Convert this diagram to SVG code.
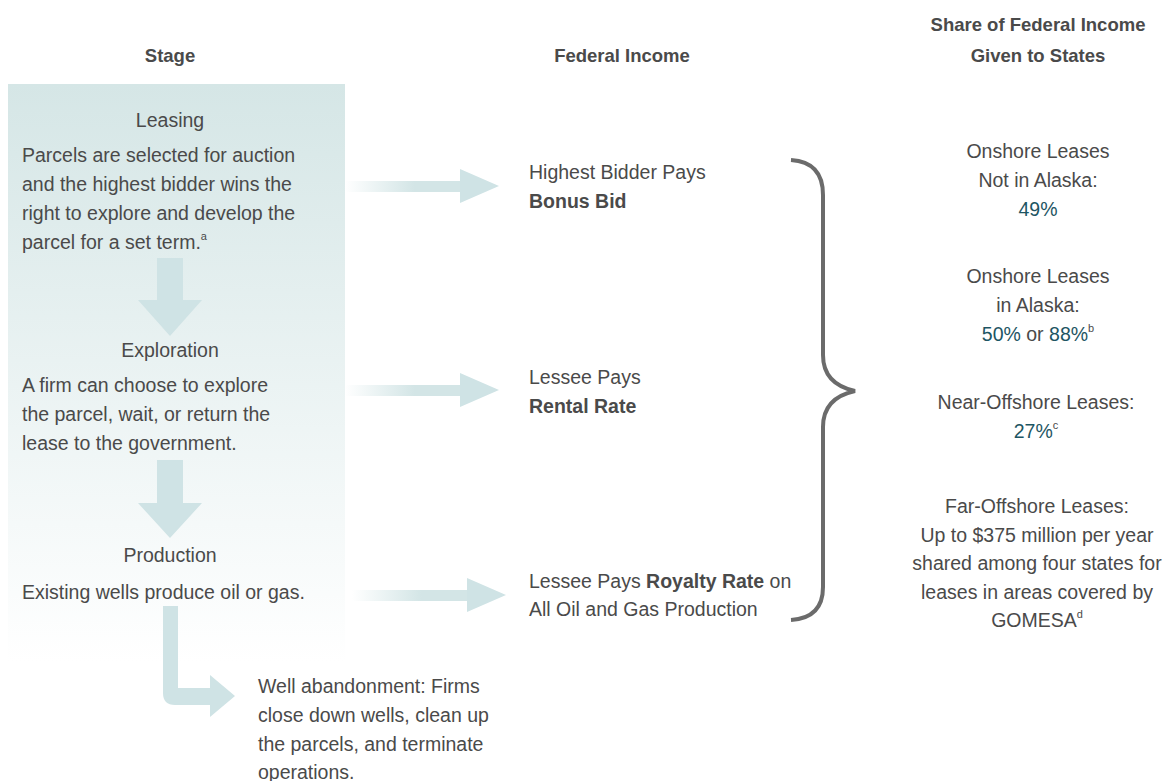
<svg xmlns="http://www.w3.org/2000/svg" width="1165" height="781" viewBox="0 0 1165 781">
<defs>
<linearGradient id="panelGrad" x1="0" y1="0" x2="0" y2="1">
<stop offset="0" stop-color="#d5e6e6"/>
<stop offset="1" stop-color="#ffffff"/>
</linearGradient>
<linearGradient id="shaftGrad" x1="0" y1="0" x2="1" y2="0">
<stop offset="0" stop-color="#d3e5e6" stop-opacity="0"/>
<stop offset="0.6" stop-color="#d3e5e6" stop-opacity="1"/>
</linearGradient>
<style>
text{font-family:"Liberation Sans",Arial,sans-serif;fill:#4a4a4a;}
.h{font-size:18.5px;font-weight:bold;text-anchor:middle;}
.t{font-size:19.5px;}
.c{text-anchor:middle;}
.b{font-weight:bold;}
.p{fill:#1d5563;}
.sup{font-size:11px;}
.arr{fill:#cfe3e5;}
.brace{fill:none;stroke:#6b6b6b;stroke-width:4;stroke-linecap:butt;}
</style>
</defs>
<rect width="1165" height="781" fill="#ffffff"/>

<g id="headers">
<text class="h" x="170" y="62">Stage</text>
<text class="h" x="622" y="62">Federal Income</text>
<text class="h" x="1038" y="31">Share of Federal Income</text>
<text class="h" x="1038" y="62">Given to States</text>
</g>

<g id="stage-panel">
<rect x="8" y="84" width="337" height="578" fill="url(#panelGrad)"/>
</g>

<g id="leasing">
<text class="t c" x="170" y="127">Leasing</text>
<text class="t" x="22" y="162">Parcels are selected for auction</text>
<text class="t" x="22" y="191">and the highest bidder wins the</text>
<text class="t" x="22" y="220">right to explore and develop the</text>
<text class="t" x="22" y="249">parcel for a set term.<tspan class="sup" dy="-9">a</tspan></text>
</g>

<g id="exploration">
<text class="t c" x="170" y="357">Exploration</text>
<text class="t" x="22" y="392">A firm can choose to explore</text>
<text class="t" x="22" y="421">the parcel, wait, or return the</text>
<text class="t" x="22" y="450">lease to the government.</text>
</g>

<g id="production">
<text class="t c" x="170" y="562">Production</text>
<text class="t" x="22" y="599">Existing wells produce oil or gas.</text>
</g>

<g id="abandonment">
<text class="t" x="258" y="693">Well abandonment: Firms</text>
<text class="t" x="258" y="722">close down wells, clean up</text>
<text class="t" x="258" y="751">the parcels, and terminate</text>
<text class="t" x="258" y="779">operations.</text>
</g>

<g id="income-bonus">
<text class="t" x="529" y="179">Highest Bidder Pays</text>
<text class="t b" x="529" y="208">Bonus Bid</text>
</g>
<g id="income-rental">
<text class="t" x="529" y="384">Lessee Pays</text>
<text class="t b" x="529" y="413">Rental Rate</text>
</g>
<g id="income-royalty">
<text class="t" x="529" y="588">Lessee Pays <tspan class="b">Royalty Rate</tspan> on</text>
<text class="t" x="529" y="616">All Oil and Gas Production</text>
</g>

<g id="share-onshore">
<text class="t c" x="1038" y="158">Onshore Leases</text>
<text class="t c" x="1038" y="187">Not in Alaska:</text>
<text class="t c p" x="1038" y="216">49%</text>
</g>
<g id="share-alaska">
<text class="t c" x="1038" y="283">Onshore Leases</text>
<text class="t c" x="1038" y="312">in Alaska:</text>
<text class="t c" x="1038" y="341"><tspan class="p">50%</tspan> or <tspan class="p">88%</tspan><tspan class="sup" dy="-9">b</tspan></text>
</g>
<g id="share-near">
<text class="t c" x="1036" y="409">Near-Offshore Leases:</text>
<text class="t c" x="1036" y="438"><tspan class="p">27%</tspan><tspan class="sup" dy="-9">c</tspan></text>
</g>
<g id="share-far">
<text class="t c" x="1037" y="513">Far-Offshore Leases:</text>
<text class="t c" x="1037" y="542">Up to $375 million per year</text>
<text class="t c" x="1037" y="570">shared among four states for</text>
<text class="t c" x="1037" y="599">leases in areas covered by</text>
<text class="t c" x="1037" y="627">GOMESA<tspan class="sup" dy="-9">d</tspan></text>
</g>

<g id="connectors">
<path class="arr" d="M157,258 H183 V300 H202 L170,336 L138,300 H157 Z"/>
<path class="arr" d="M157,460 H183 V503 H202 L170,538 L138,503 H157 Z"/>
<path class="arr" d="M163,606 H178 V688 H210 V675 L235,696 L210,717 V705 H175 Q163,705 163,693 Z"/>
<rect x="345" y="181" width="116" height="11" fill="url(#shaftGrad)"/>
<path class="arr" d="M460,169 L499,186 L460,203 Z"/>
<rect x="345" y="385" width="116" height="11" fill="url(#shaftGrad)"/>
<path class="arr" d="M460,373 L499,390 L460,407 Z"/>
<rect x="352" y="590" width="116" height="11" fill="url(#shaftGrad)"/>
<path class="arr" d="M467,578 L506,595 L467,612 Z"/>
<path class="brace" d="M791,160 Q823,162 823,195 L823,355 Q823,384 855,391 Q823,398 823,427 L823,587 Q823,618 791,620"/>
</g>
</svg>
